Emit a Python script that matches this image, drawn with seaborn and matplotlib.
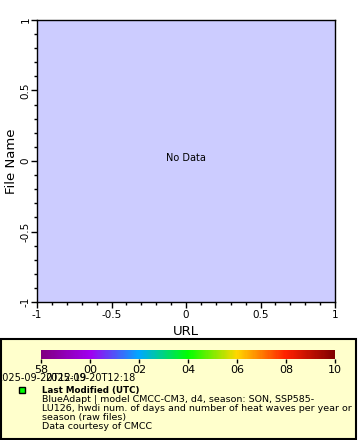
import numpy as np
import matplotlib
matplotlib.use("Agg")
import matplotlib.pyplot as plt
from matplotlib.colors import LinearSegmentedColormap, Normalize
from matplotlib.cm import ScalarMappable
from matplotlib.patches import Rectangle
from matplotlib.ticker import MultipleLocator
import seaborn as sns

# axis ranges and labels
x_range = [-1, 1]
y_range = [-1, 1]
x_label = "URL"
y_label = "File Name"
x_ticks = [-1, -0.5, 0, 0.5, 1]
x_tick_labels = ["-1", "-0.5", "0", "0.5", "1"]
y_ticks = [-1, -0.5, 0, 0.5, 1]
y_tick_labels = ["-1", "-0.5", "0", "0.5", "1"]

# colour scale of the legend
cbar_labels = ["58", "00", "02", "04", "06", "08", "10"]
time_labels = ["2025-09-20T12:19", "2025-09-20T12:18"]
cmap_colors = ["#800080", "#a000f0", "#00a8ff", "#00ff00", "#ffd700", "#ff2000", "#800000"]

legend_title = "Last Modified (UTC)"
legend_lines = [
    "BlueAdapt | model CMCC-CM3, d4, season: SON, SSP585-",
    "LU126, hwdi num. of days and number of heat waves per year or",
    "season (raw files)",
    "Data courtesy of CMCC",
]

sns.set_style("ticks")
plt.rcParams["font.family"] = ["DejaVu Sans"]
plt.rcParams.update({"text.color": "black", "axes.labelcolor": "black",
                     "xtick.color": "black", "ytick.color": "black"})

W, H = 360, 440
fig = plt.figure(figsize=(W / 100, H / 100), dpi=100)


def fx(px):
    return px / W


def fy(py):
    return 1 - py / H


# main (empty) plot
ax = fig.add_axes([fx(37), fy(302), fx(335) - fx(37), fy(20) - fy(302)])
ax.set_facecolor("#ccccff")
ax.set_xlim(x_range)
ax.set_ylim(y_range)
ax.set_xticks(x_ticks)
ax.set_xticklabels(x_tick_labels)
ax.set_yticks(y_ticks)
ax.set_yticklabels(y_tick_labels, rotation=90, va="center")
ax.xaxis.set_minor_locator(MultipleLocator(0.1))
ax.yaxis.set_minor_locator(MultipleLocator(0.1))
ax.tick_params(which="major", length=4, width=1, labelsize=7.5)
ax.tick_params(axis="x", which="major", pad=2)
ax.tick_params(axis="y", which="major", pad=0.5)
ax.tick_params(which="minor", length=2, width=1)
for s in ax.spines.values():
    s.set_color("black")
    s.set_linewidth(1)
ax.set_xlabel(x_label, fontsize=9.5, labelpad=3)
ax.set_ylabel(y_label, fontsize=9.5, labelpad=2)
ax.text(0, 0.02, "No Data", ha="center", va="center", fontsize=7)

# legend panel
panel = Rectangle((fx(1), fy(439)), fx(356) - fx(1), fy(339) - fy(439),
                  transform=fig.transFigure, facecolor="#ffffcc",
                  edgecolor="black", linewidth=1.5, zorder=-10)
fig.patches.append(panel)

cmap = LinearSegmentedColormap.from_list("scale", cmap_colors)
cax = fig.add_axes([fx(41), fy(359), fx(335) - fx(41), fy(350) - fy(359)])
pos = np.arange(len(cbar_labels))
cb = fig.colorbar(ScalarMappable(norm=Normalize(pos[0], pos[-1]), cmap=cmap),
                  cax=cax, orientation="horizontal")
cb.outline.set_visible(False)
cb.set_ticks(pos)
cb.set_ticklabels(cbar_labels)
cax.tick_params(length=3, width=1, labelsize=8, pad=1)

# overlapping timestamps under the first two ticks
for i, t in enumerate(time_labels):
    fig.text(fx(41 + 49 * i), fy(378), t, ha="center", va="center", fontsize=7)

fig.add_artist(plt.Line2D([fx(22)], [fy(390)], marker="s", markersize=5,
                          markerfacecolor="#00ff00", markeredgecolor="black",
                          markeredgewidth=1, transform=fig.transFigure))
fig.text(fx(42), fy(390), legend_title, ha="left", va="center",
         fontsize=6.3, fontweight="bold")
for i, line in enumerate(legend_lines):
    fig.text(fx(42), fy(399 + 9.3 * i), line, ha="left", va="center", fontsize=6.8)

fig.savefig("out.png", dpi=100)
